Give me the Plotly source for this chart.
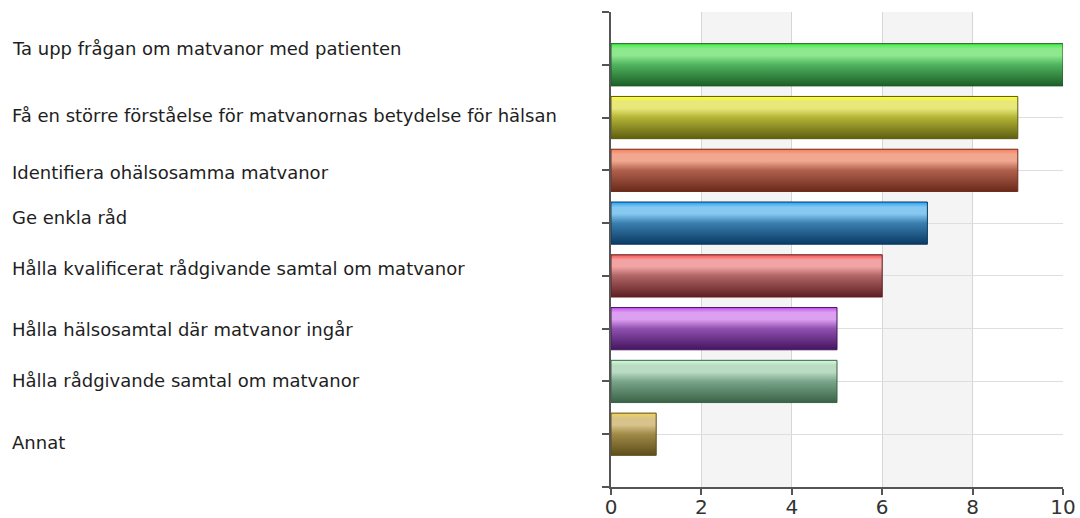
import plotly.graph_objects as go

# Answer options (top to bottom) and number of responses
categories = [
    "Ta upp frågan om matvanor med patienten",
    "Få en större förståelse för matvanornas betydelse för hälsan",
    "Identifiera ohälsosamma matvanor",
    "Ge enkla råd",
    "Hålla kvalificerat rådgivande samtal om matvanor",
    "Hålla hälsosamtal där matvanor ingår",
    "Hålla rådgivande samtal om matvanor",
    "Annat",
]
values = [10, 9, 9, 7, 6, 5, 5, 1]
x_ticks = [0, 2, 4, 6, 8, 10]

# Cylinder-style shading per bar: top edge, highlight, mid, bottom edge
bar_shades = [
    ["#3cf23c", "#8ee88e", "#4fb35f", "#1d5e27"],
    ["#ffff2a", "#e8e87a", "#b3b336", "#5e5e10"],
    ["#ff7a55", "#f0a890", "#b0604d", "#6a2a1a"],
    ["#1ea0f5", "#86c8f0", "#3a7fb0", "#0a3a63"],
    ["#ff5050", "#f2a4a4", "#b06565", "#5e1e22"],
    ["#c850f5", "#dca0f0", "#9050b0", "#44155e"],
    ["#d2fcdc", "#b9dcc3", "#7aa58a", "#3a6246"],
    ["#f2d455", "#d8c48a", "#a08a48", "#5e4e1a"],
]
bar_outline = ["#1a5a25", "#5a5a10", "#6a2a1a", "#0a3a63", "#5e1e22", "#44155e", "#3a6246", "#5e4e1a"]

# Small vertical nudges for the left-hand labels (in category units)
label_nudge = [-0.30, -0.04, 0.05, -0.11, -0.14, 0.02, -0.02, 0.16]

half = 0.40
fig = go.Figure()
for k, (v, shades) in enumerate(zip(values, bar_shades)):
    y0, y1 = k - half, k + half
    fig.add_trace(go.Scatter(
        x=[0, v, v, 0, 0],
        y=[y0, y0, y1, y1, y0],
        mode="lines",
        fill="toself",
        line=dict(color=bar_outline[k], width=1),
        fillgradient=dict(
            type="vertical",
            colorscale=[[0, shades[3]], [0.5, shades[2]], [0.72, shades[1]], [0.88, shades[1]], [1, shades[0]]],
            start=y1,
            stop=y0,
        ),
        hoverinfo="skip",
        showlegend=False,
    ))

# Alternating light bands behind the bars
shapes = []
for a, b in [(2, 4), (6, 8)]:
    shapes.append(dict(type="rect", xref="x", yref="paper", x0=a, x1=b, y0=0, y1=1,
                       fillcolor="#f4f4f4", line=dict(width=0), layer="below"))

plot_left, plot_right = 611, 1063
annotations = []
for k, (label, dy) in enumerate(zip(categories, label_nudge)):
    annotations.append(dict(
        text=label, xref="paper", yref="y",
        x=(10 - plot_left) / (plot_right - plot_left), y=k + dy,
        xanchor="left", yanchor="middle", showarrow=False,
        font=dict(family="DejaVu Sans", size=18, color="#1e1e1e"),
    ))

fig.update_layout(
    width=1080, height=518,
    margin=dict(l=plot_left, r=1080 - plot_right, t=12, b=31, autoexpand=False),
    paper_bgcolor="white", plot_bgcolor="white",
    shapes=shapes, annotations=annotations,
    showlegend=False,
)
fig.update_xaxes(
    range=[0, 10], tickvals=x_ticks, ticktext=[str(t) for t in x_ticks],
    showgrid=True, gridcolor="#d6d6d6", gridwidth=1,
    showline=True, linecolor="#555555", linewidth=1.5,
    ticks="outside", ticklen=6, tickcolor="#555555", tickwidth=1.5,
    ticklabelstandoff=-5,
    tickfont=dict(family="DejaVu Sans", size=20, color="#333333"),
    zeroline=False, fixedrange=True, automargin=False,
)
fig.update_yaxes(
    range=[8, -1], tickvals=list(range(-1, 9)), showticklabels=False,
    showgrid=True, gridcolor="#dedede", gridwidth=1,
    showline=True, linecolor="#555555", linewidth=1.5,
    ticks="outside", ticklen=7, tickcolor="#555555", tickwidth=1.5,
    zeroline=False, fixedrange=True, automargin=False,
)

fig.write_html("out.html")
